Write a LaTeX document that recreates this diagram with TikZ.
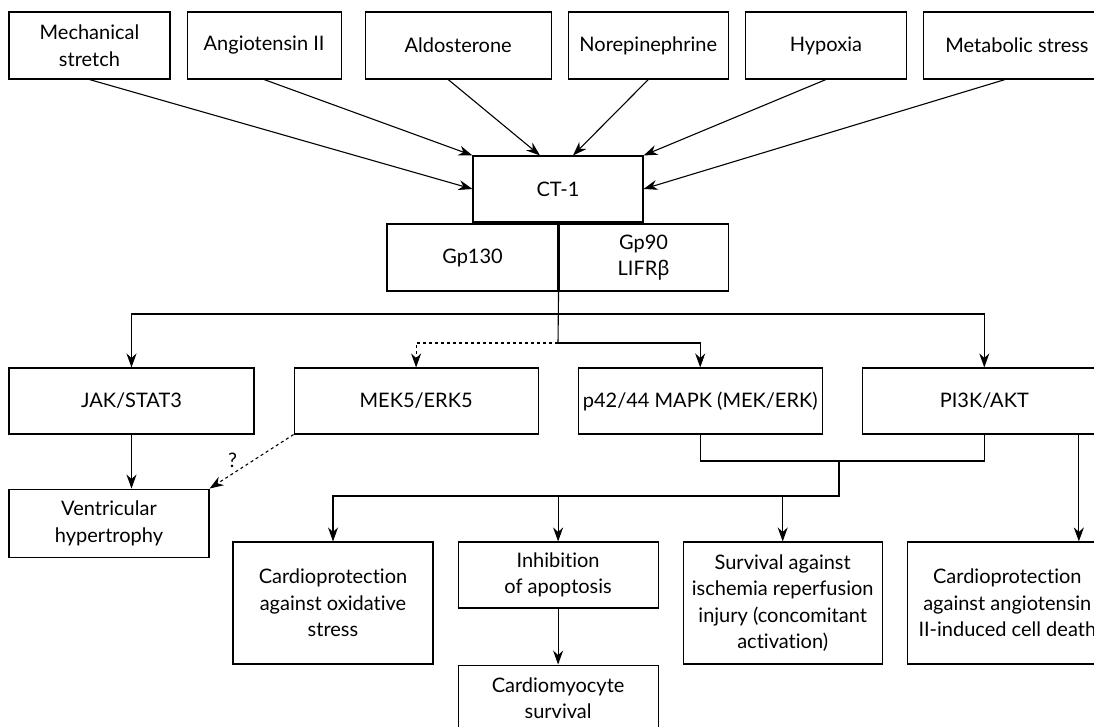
\documentclass[tikz,border=0pt]{standalone}
\usepackage{fontspec}
\setmainfont{Lato}[Ligatures=NoCommon]
\newfontfamily\greekfont{Noto Sans}
\usepackage{tikz}
\usetikzlibrary{arrows.meta,positioning}
\tikzstyle{box} = [rectangle, draw, align=center, line width=1.1pt, font=\fontsize{20}{26.5}\selectfont]
\tikzstyle{arrow} = [line width=1.1pt, -{Stealth[length=14pt,width=10pt,inset=4.5pt]}]
\tikzstyle{line} = [line width=1.1pt]

\begin{document}
\begin{tikzpicture}[x=1pt,y=-1pt]
\useasboundingbox (0,0) rectangle (1094,726);
\node[box, minimum width=161pt, minimum height=67pt] (stretch) at (89.5,45.5) {Mechanical\\stretch};
\node[box, minimum width=154pt, minimum height=67pt, right=16pt of stretch] (angio) {Angiotensin II};
\node[box, minimum width=186pt, minimum height=67pt, right=23pt of angio] (aldo) {Aldosterone};
\node[box, minimum width=160pt, minimum height=67pt, right=16pt of aldo] (nore) {Norepinephrine};
\node[box, minimum width=161pt, minimum height=67pt, right=16pt of nore] (hypox) {Hypoxia};
\node[box, minimum width=187pt, minimum height=67pt, right=16pt of hypox] (metab) {Metabolic stress};

\node[box, minimum width=170pt, minimum height=66pt] (ct) at (558,189) {CT-1};
\node[box, minimum width=171pt, minimum height=67pt] (gp130) at (472.5,257.5) {Gp130};
\node[box, minimum width=169pt, minimum height=67pt, right=0pt of gp130] (gp90) {Gp90\\LIFR{\greekfont β}};

\node[box, minimum width=245pt, minimum height=66pt] (jak) at (131.5,401) {JAK/STAT3};
\node[box, minimum width=244pt, minimum height=66pt, right=39pt of jak] (mek5) {MEK5/ERK5};
\node[box, minimum width=244pt, minimum height=66pt, right=39pt of mek5] (p42) {p42/44 MAPK (MEK/ERK)};
\node[box, minimum width=244pt, minimum height=66pt, right=39pt of p42] (pi3k) {PI3K/AKT};

\node[box, minimum width=200pt, minimum height=68pt, below=54pt of jak.south west, anchor=north west] (vent) {Ventricular\\hypertrophy};

\node[box, minimum width=200pt, minimum height=122pt] (oxid) at (333,603) {Cardioprotection\\against oxidative\\stress};
\node[box, minimum width=200pt, minimum height=66pt, right=24pt of oxid.north east, anchor=north west] (inhib) {Inhibition\\of apoptosis};
\node[box, minimum width=199pt, minimum height=122pt, right=24pt of inhib.north east, anchor=north west] (surv) {Survival against\\ischemia reperfusion\\injury (concomitant\\activation)};
\node[box, minimum width=200pt, minimum height=122pt, right=24pt of surv] (death) {Cardioprotection\\against angiotensin\\II-induced cell death};
\node[box, minimum width=200pt, minimum height=66pt, below=56pt of inhib] (myocyte) {Cardiomyocyte\\survival};

\draw[arrow] (stretch.south) -- (ct.west);
\draw[arrow] (angio.south) -- (ct.north west);
\draw[arrow] ([xshift=-10pt]aldo.south) -- ([xshift=-18pt]ct.north);
\draw[arrow] (nore.south) -- ([xshift=15pt]ct.north);
\draw[arrow] (hypox.south) -- (ct.north east);
\draw[arrow] ([xshift=-12pt]metab.south) -- (ct.east);

\coordinate (split) at (558,314);
\coordinate (fork) at (558,343);
\draw[line] (gp130.south east) -- (fork);
\draw[arrow] (split) -| (jak);
\draw[arrow] (split) -| (pi3k);
\draw[arrow, dashed] (fork) -| (mek5);
\draw[arrow] (fork) -| (p42);

\draw[arrow] (jak) -- (jak |- vent.north);
\draw[arrow, dashed] (mek5.south west) -- node[pos=0.65, above left=-3pt, font=\fontsize{20}{26.5}\selectfont] {?} (vent.north east);

\coordinate (merge) at (839,461);
\coordinate (hub) at (839,496);
\draw[line] (p42) |- (merge) -| (pi3k);
\draw[arrow] (merge) -- (hub) -| (oxid);
\draw[arrow] (hub -| inhib) -- (inhib);
\draw[arrow] (hub -| surv) -- (surv);
\coordinate (pright) at ([xshift=-28pt]pi3k.south east);
\draw[arrow] (pright) -- (pright |- death.north);
\draw[arrow] (inhib) -- (myocyte);
\end{tikzpicture}
\end{document}
